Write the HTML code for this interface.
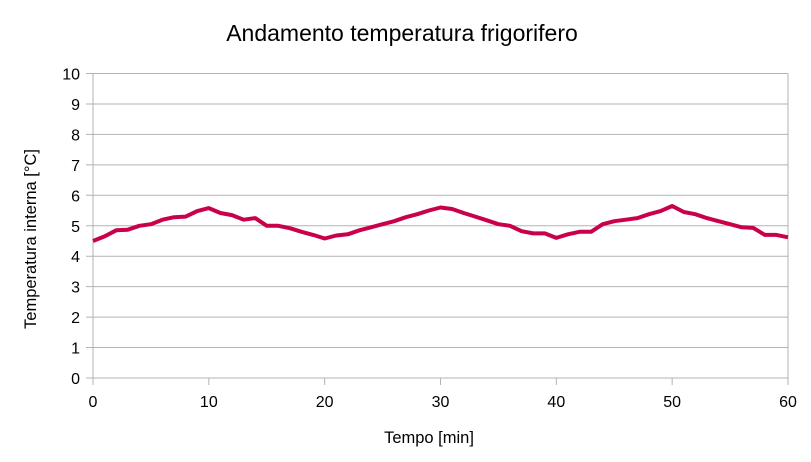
<!DOCTYPE html>
<html><head><meta charset="utf-8"><style>
body{margin:0;background:#fff;}
svg{display:block;font-family:"Liberation Sans",sans-serif;}
</style></head><body>
<svg id="s" width="811" height="462" xmlns="http://www.w3.org/2000/svg">
<rect width="811" height="462" fill="#fff"/>
<text x="402" y="41" font-size="23" text-anchor="middle" fill="#000">Andamento temperatura frigorifero</text>
<g id="grid"></g>
<text x="429" y="443" font-size="16.5" text-anchor="middle">Tempo [min]</text>
<text transform="translate(36,239) rotate(-90)" font-size="16.5" text-anchor="middle">Temperatura interna [°C]</text>
<polyline id="line" fill="none" stroke="#c9004a" stroke-width="4" stroke-linejoin="round" points=""/>
</svg>
<script>
var ns="http://www.w3.org/2000/svg",g=document.getElementById("grid");
function el(t,a,txt){var e=document.createElementNS(ns,t);for(var k in a)e.setAttribute(k,a[k]);if(txt!=null)e.textContent=txt;g.appendChild(e);}
var x0=93,x1=788,y0=378,yt=73.5,dy=(y0-yt)/10;
for(var i=0;i<=10;i++){var y=y0-i*dy;
el("line",{x1:86,x2:x1,y1:y,y2:y,stroke:"#b3b3b3","stroke-width":1});
el("text",{x:80,y:y+6,"font-size":16,"text-anchor":"end"},i);}
el("line",{x1:x0,x2:x0,y1:yt,y2:y0+7,stroke:"#b3b3b3"});
el("line",{x1:x1,x2:x1,y1:yt,y2:y0+7,stroke:"#b3b3b3"});
for(var j=0;j<=6;j++){var x=x0+j*(x1-x0)/6;
el("line",{x1:x,x2:x,y1:y0,y2:y0+7,stroke:"#b3b3b3"});
el("text",{x:x,y:407,"font-size":16,"text-anchor":"middle"},j*10);}
var v=[4.5,4.65,4.85,4.87,5.0,5.05,5.2,5.28,5.3,5.48,5.58,5.42,5.35,5.2,5.25,5.0,5.0,4.92,4.8,4.7,4.58,4.68,4.72,4.85,4.95,5.05,5.15,5.28,5.38,5.5,5.6,5.55,5.42,5.3,5.18,5.05,5.0,4.82,4.75,4.75,4.6,4.72,4.8,4.8,5.05,5.15,5.2,5.25,5.38,5.48,5.65,5.45,5.38,5.25,5.15,5.05,4.95,4.93,4.7,4.7,4.62];
var p=v.map(function(t,k){return (x0+k*(x1-x0)/60).toFixed(1)+","+(y0-t*dy).toFixed(1)}).join(" ");
document.getElementById("line").setAttribute("points",p);
</script>
</body></html>
